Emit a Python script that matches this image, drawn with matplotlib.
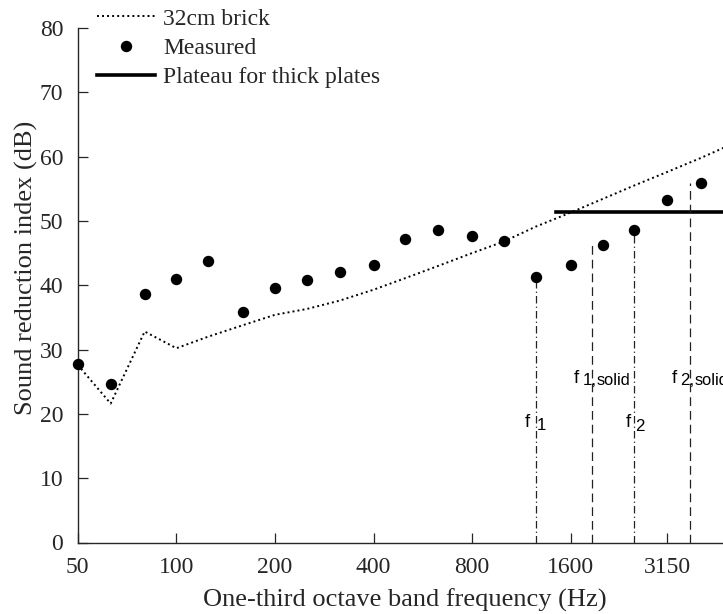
import matplotlib
matplotlib.use("Agg")
import matplotlib.pyplot as plt

# ---- data ----
bands = [50, 63, 80, 100, 125, 160, 200, 250, 315, 400, 500, 630, 800, 1000,
         1250, 1600, 2000, 2500, 3150, 4000]
measured = [27.7, 24.6, 38.7, 41.0, 43.7, 35.9, 39.5, 40.8, 42.1, 43.1, 47.2,
            48.6, 47.7, 46.8, 41.2, 43.2, 46.2, 48.6, 53.2, 55.9]
brick_freq = bands + [5000]
brick = [27.6, 21.6, 32.8, 30.2, 32.0, 33.8, 35.4, 36.3, 37.6, 39.3, 41.1,
         43.0, 45.0, 46.8, 49.1, 51.3, 53.4, 55.5, 57.6, 59.8, 62.0]
plateau_freq = [1440, 5000]
plateau_level = [51.45, 51.45]

f1, f1_top = 1250, 41.2
f1s, f1s_top = 1851, 46.9
f2, f2_top = 2500, 48.6
f2s, f2s_top = 3710, 55.9

xticks = [50, 100, 200, 400, 800, 1600, 3150]
yticks = [0, 10, 20, 30, 40, 50, 60, 70, 80]

plt.rcParams['font.family'] = ['Liberation Serif', 'DejaVu Serif']

fig = plt.figure(figsize=(7.23, 6.14), dpi=100)
ax = fig.add_axes([77.8 / 723, 1 - 542.5 / 614, 1 - 77.8 / 723, (542.5 - 27.9) / 614])

ax.plot(brick_freq, brick, color='black', linestyle=(0, (1, 1.6)), lw=1.4,
        label='32cm brick')
ax.plot(bands, measured, 'o', color='black', ms=7.2, label='Measured',
        clip_on=False, zorder=5)
ax.plot(plateau_freq, plateau_level, '-', color='black', lw=2.6,
        label='Plateau for thick plates')

lc = '#222222'
dashdot = (0, (6, 2.5, 1, 2.5))
dashed = (0, (7, 4))
ax.plot([f1, f1], [0, f1_top], color=lc, lw=0.9, linestyle=dashdot)
ax.plot([f2, f2], [0, f2_top], color=lc, lw=0.9, linestyle=dashdot)
ax.plot([f1s, f1s], [0, f1s_top], color=lc, lw=0.9, linestyle=dashed)
ax.plot([f2s, f2s], [0, f2s_top], color=lc, lw=0.9, linestyle=dashed)

PT = 0.72  # points per pixel at 100 dpi
tf = dict(family=['Liberation Sans', 'DejaVu Sans'],
          ha='left', va='baseline', color='black',
          textcoords='offset points', annotation_clip=False)


def label(xline, ybase, parts):
    for txt, dx, dy, fs in parts:
        ax.annotate(txt, xy=(xline, ybase), xytext=(dx * PT, -dy * PT),
                    fontsize=fs, **tf)


label(f1, 18.0, [('f', -11.2, 0, 13.5), ('1', 1.0, 3.5, 12.2)])
label(f1s, 24.8, [('f', -17.8, 0, 13.5), ('1,', -8.8, 2.5, 12.2), ('solid', 5.2, 2.5, 11.8)])
label(f2, 18.0, [('f', -8.6, 0, 13.5), ('2', 0.8, 4.5, 12.2)])
label(f2s, 24.8, [('f', -19.0, 0, 13.5), ('2,', -10.4, 2.5, 12.2), ('solid', 4.6, 2.5, 11.8)])

ax.set_xscale('log')
ax.set_xlim(50, 4665)
ax.set_ylim(0, 80)
ax.set_xticks(xticks)
ax.set_xticklabels([str(t) for t in xticks])
ax.xaxis.set_minor_locator(matplotlib.ticker.NullLocator())
ax.set_yticks(yticks)
ax.tick_params(direction='in', length=7, width=0.9, labelsize=17,
               colors='#262626')
ax.tick_params(axis='y', pad=10.5)
ax.tick_params(axis='x', pad=10.5)
for s in ['top', 'right']:
    ax.spines[s].set_visible(False)
for s in ['left', 'bottom']:
    ax.spines[s].set_color('#262626')
    ax.spines[s].set_linewidth(1.0)

ax.set_xlabel('One-third octave band frequency (Hz)', fontsize=19, color='#262626')
ax.set_ylabel('Sound reduction index (dB)', fontsize=19, color='#262626')
ax.xaxis.set_label_coords((405 - 77.8) / (723 - 77.8), -(589 - 542.5) / (542.5 - 27.9))
ax.yaxis.set_label_coords(-(77.8 - 38) / (723 - 77.8), (542.5 - 268) / (542.5 - 27.9))

leg = fig.legend(loc='upper left', bbox_to_anchor=(97 / 723, 1 - 8 / 614),
                 frameon=False, fontsize=17, handlelength=2.45,
                 handletextpad=0.35, labelspacing=0.33, borderpad=0,
                 borderaxespad=0)
for t in leg.get_texts():
    t.set_color('#262626')

fig.savefig('out.png', dpi=100)
